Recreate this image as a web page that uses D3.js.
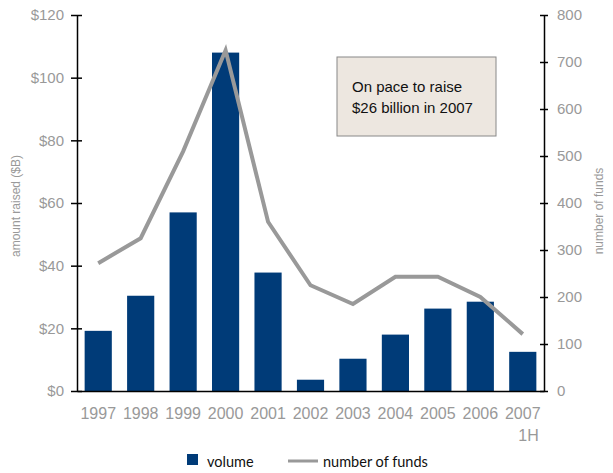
<!DOCTYPE html>
<html><head><meta charset="utf-8">
<script src="https://cdn.jsdelivr.net/npm/d3@7"></script>
<style>body{margin:0;background:#fff}svg{display:block}</style>
</head><body><svg id="c" width="613" height="473"></svg>
<script>
const years = ["1997","1998","1999","2000","2001","2002","2003","2004","2005","2006","2007"];
const volume = [19.2, 30.4, 57.0, 108.0, 37.8, 3.6, 10.3, 18.0, 26.3, 28.5, 12.5];
const funds = [272, 325, 510, 725, 360, 225, 185, 243, 243, 200, 121];
const leftTicks = [0, 20, 40, 60, 80, 100, 120];
const rightTicks = [0, 100, 200, 300, 400, 500, 600, 700, 800];

const svg = d3.select("#c");
const L = 77, R = 544, T = 15, B = 391;
const font = "Liberation Sans, Arial, sans-serif";
const gray = "#999";

const x = d3.scaleBand().domain(years).range([L, R]).paddingInner(0.36).paddingOuter(0.18);
const yL = d3.scaleLinear().domain([0, 120]).range([B, T]);
const yR = d3.scaleLinear().domain([0, 800]).range([B, T]);

// bars
svg.append("g").selectAll("rect").data(years).join("rect")
  .attr("x", d => x(d)).attr("width", x.bandwidth())
  .attr("y", (d, i) => yL(volume[i])).attr("height", (d, i) => B - yL(volume[i]))
  .attr("fill", "#003B78");

// line
const line = d3.line().x((d, i) => x(years[i]) + x.bandwidth() / 2).y(d => yR(d));
svg.append("path").datum(funds).attr("d", line)
  .attr("fill", "none").attr("stroke", "#999").attr("stroke-width", 4);

// axes
const axL = svg.append("g").attr("transform", `translate(${L},0)`)
  .call(d3.axisLeft(yL).tickValues(leftTicks).tickFormat(d => "$" + d).tickSizeInner(6).tickSizeOuter(0));
axL.selectAll(".tick line").attr("x1", 5).attr("x2", -6);
const axR = svg.append("g").attr("transform", `translate(${R},0)`)
  .call(d3.axisRight(yR).tickValues(rightTicks).tickSizeInner(4).tickSizeOuter(0));
axR.selectAll(".tick line").attr("x1", -4).attr("x2", 4);
[axL, axR].forEach(a => {
  a.select(".domain").attr("stroke", "#000").attr("stroke-width", 1.5);
  a.selectAll(".tick line").attr("stroke", "#000").attr("stroke-width", 1.5);
  a.selectAll("text").attr("fill", gray).attr("font-size", 15).attr("font-family", font);
});
axL.selectAll("text").attr("x", -13);
axR.selectAll("text").attr("x", 13);

// bottom axis
const axB = svg.append("g").attr("transform", `translate(0,${B})`)
  .call(d3.axisBottom(x).tickSize(0));
axB.select(".domain").attr("stroke", "#000").attr("stroke-width", 1.5);
axB.selectAll("text").attr("fill", gray).attr("font-size", 16).attr("font-family", font).attr("dy", 0).attr("y", 28);
svg.append("text").attr("x", x("2007") + x.bandwidth() / 2 + 16).attr("y", 441)
  .attr("text-anchor", "end").attr("fill", gray).attr("font-size", 16).attr("font-family", font).text("1H");

// axis titles
svg.append("text").attr("transform", `translate(20,206) rotate(-90)`)
  .attr("text-anchor", "middle").attr("fill", gray).attr("font-size", 12).attr("font-family", font)
  .text("amount raised ($B)");
svg.append("text").attr("transform", `translate(603,211) rotate(-90)`)
  .attr("text-anchor", "middle").attr("fill", gray).attr("font-size", 12).attr("font-family", font)
  .text("number of funds");

// annotation
svg.append("rect").attr("x", 337).attr("y", 57).attr("width", 159).attr("height", 79)
  .attr("fill", "#EDE7E0").attr("stroke", "#888").attr("stroke-width", 1);
const ann = svg.append("text").attr("font-size", 15).attr("font-family", font).attr("fill", "#111");
ann.append("tspan").attr("x", 352).attr("y", 92).text("On pace to raise");
ann.append("tspan").attr("x", 352).attr("y", 113).text("$26 billion in 2007");

// legend
const lf = "Lato, 'Open Sans', sans-serif";
svg.append("rect").attr("x", 187).attr("y", 454).attr("width", 11).attr("height", 11).attr("fill", "#003B78");
svg.append("text").attr("x", 207).attr("y", 467).attr("font-size", 14.5).attr("font-family", lf).attr("fill", "#111").text("volume");
svg.append("line").attr("x1", 288).attr("x2", 318).attr("y1", 461).attr("y2", 461).attr("stroke", "#999").attr("stroke-width", 3);
svg.append("text").attr("x", 323).attr("y", 467).attr("font-size", 14.5).attr("font-family", lf).attr("fill", "#111").text("number of funds");
</script></body></html>
